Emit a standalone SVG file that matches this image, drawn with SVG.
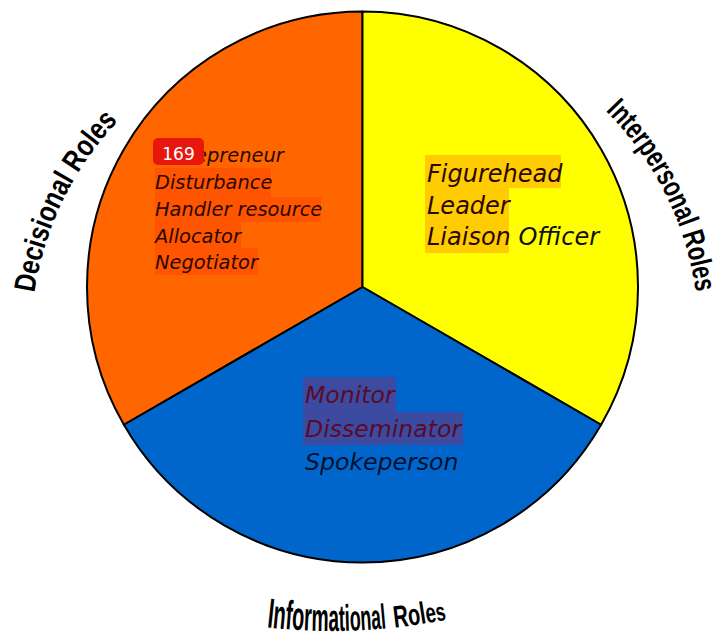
<svg xmlns="http://www.w3.org/2000/svg" width="714" height="639" viewBox="0 0 714 639">
  <style>
    .seg { stroke: #000; stroke-width: 2; stroke-linejoin: round; }
    .item { font-family: "DejaVu Sans", Verdana, sans-serif; font-style: italic; }
    .role { font-family: "Liberation Sans Narrow", "Liberation Sans", Arial, sans-serif; font-weight: bold; fill: #000; }
  </style>
  <defs>
    <path id="arcLeft" d="M31.8,361.0 A316,316 0 0 1 170.3,77.0" fill="none"/>
    <path id="arcRight" d="M555.5,69.6 A322,322 0 0 1 698.5,357.0" fill="none"/>
    <path id="arcBottom" d="M232,622.3 A581,581 0 0 0 482,611.3" fill="none"/>
  </defs>
  <rect width="714" height="639" fill="#fff"/>

  <g id="decisional">
    <path class="seg" d="M362.5,287 L362.5,11.5 A275.5,275.5 0 0 0 123.9,424.75 Z" fill="#FF6600"/>
    <rect x="155" y="168" width="116" height="29" fill="#FF5500"/>
    <rect x="155" y="197" width="166" height="25" fill="#FF5500"/>
    <rect x="155" y="222" width="86" height="26" fill="#FF5500"/>
    <rect x="155" y="248" width="103" height="27" fill="#FF5500"/>
    <g class="item" font-size="19.4" fill="#2A0800">
      <text x="155" y="162">Entrepreneur</text>
      <text x="155" y="189">Disturbance</text>
      <text x="155" y="216">Handler resource</text>
      <text x="155" y="242.5">Allocator</text>
      <text x="155" y="269">Negotiator</text>
    </g>
    <rect x="153" y="138" width="51" height="27" rx="5" fill="#E8170E"/>
    <text x="178.5" y="160" text-anchor="middle" font-family="'DejaVu Sans', sans-serif" font-size="17" fill="#fff">169</text>
  </g>

  <g id="interpersonal">
    <path class="seg" d="M362.5,287 L362.5,11.5 A275.5,275.5 0 0 1 601.1,424.75 Z" fill="#FFFF00"/>
    <rect x="425" y="155" width="136" height="33" fill="#FFCC00"/>
    <rect x="425" y="188" width="84" height="32" fill="#FFCC00"/>
    <rect x="425" y="220" width="84" height="33" fill="#FFCC00"/>
    <g class="item" font-size="24">
      <text x="427" y="182" fill="#2A0800">Figurehead</text>
      <text x="427" y="213.5" fill="#2A0800">Leader</text>
      <text x="427" y="245" fill="#2A0800">Liaison<tspan fill="#111"> Officer</tspan></text>
    </g>
  </g>

  <g id="informational">
    <path class="seg" d="M362.5,287 L601.1,424.75 A275.5,275.5 0 0 1 123.9,424.75 Z" fill="#0066CC"/>
    <rect x="303" y="377" width="93" height="35" fill="#3C4A9F"/>
    <rect x="303" y="412" width="160" height="33" fill="#3C4A9F"/>
    <g class="item" font-size="23.6">
      <text x="305" y="403" fill="#5A0A28">Monitor</text>
      <text x="305" y="436.5" fill="#5A0A28">Disseminator</text>
      <text x="305" y="470" fill="#00112E">Spokeperson</text>
    </g>
  </g>

  <g id="labels">
    <text class="role" font-size="30"><textPath href="#arcLeft" startOffset="50%" text-anchor="middle" textLength="194" lengthAdjust="spacingAndGlyphs">Decisional Roles</textPath></text>
    <text class="role" font-size="30"><textPath href="#arcRight" startOffset="50%" text-anchor="middle" textLength="206" lengthAdjust="spacingAndGlyphs">Interpersonal Roles</textPath></text>
    <text class="role"><textPath href="#arcBottom" startOffset="35" textLength="120" lengthAdjust="spacingAndGlyphs"><tspan font-size="42">I</tspan><tspan font-size="41">nf</tspan><tspan font-size="40">o</tspan><tspan font-size="40">r</tspan><tspan font-size="39">m</tspan><tspan font-size="38">a</tspan><tspan font-size="37">t</tspan><tspan font-size="37">i</tspan><tspan font-size="36">o</tspan><tspan font-size="36">n</tspan><tspan font-size="35">al</tspan></textPath></text>
    <text class="role"><textPath href="#arcBottom" startOffset="163" textLength="53" lengthAdjust="spacingAndGlyphs"><tspan font-size="31">R</tspan><tspan font-size="30">o</tspan><tspan font-size="31">l</tspan><tspan font-size="28">e</tspan><tspan font-size="26">s</tspan></textPath></text>
  </g>
</svg>
